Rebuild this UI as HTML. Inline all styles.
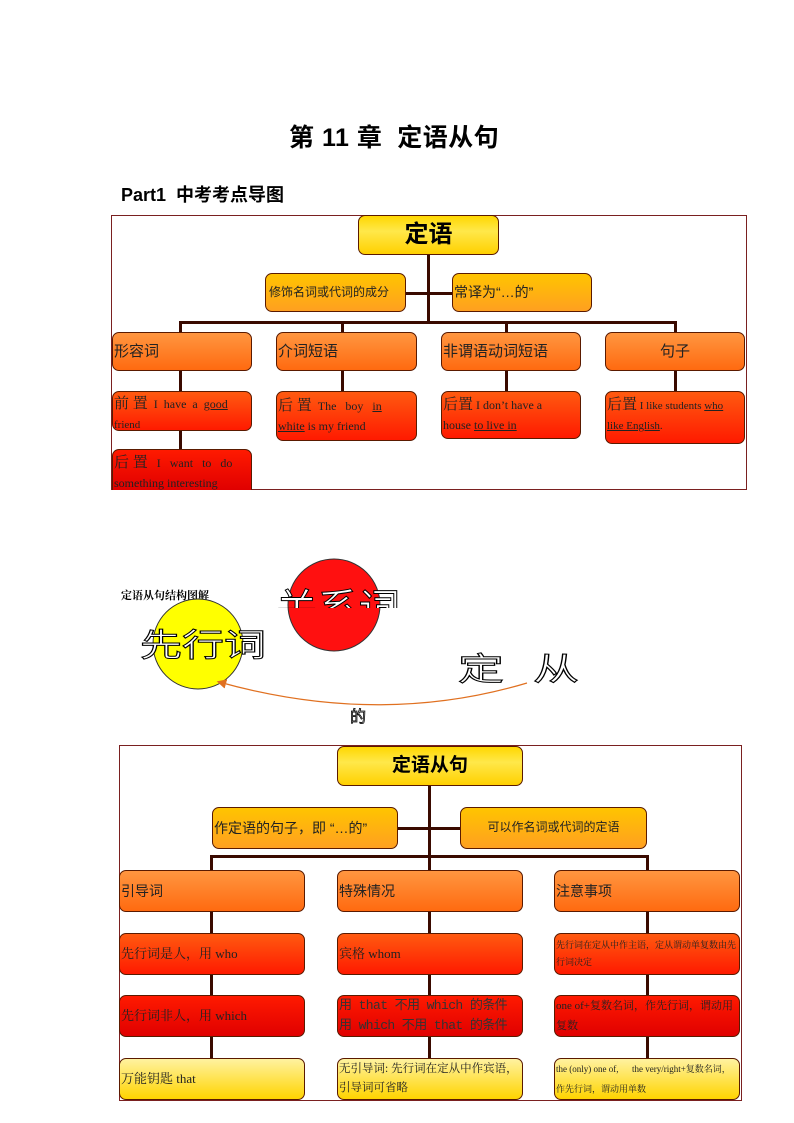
<!DOCTYPE html>
<html><head><meta charset="utf-8">
<style>
body{margin:0;background:#fff;}
#p{position:relative;width:794px;height:1123px;overflow:hidden;font-family:"Liberation Serif","Noto Serif CJK SC",serif;}
.a{position:absolute;box-sizing:border-box;}
.b{position:absolute;box-sizing:border-box;border:1px solid #5a1a00;border-radius:7px;display:flex;align-items:center;padding:0 1px;color:#222;overflow:hidden;line-height:1.3;}
.y{background:linear-gradient(#ffd700,#ffe84a 40%,#ffd000);}
.y2{background:linear-gradient(#ffc400,#ffa020);}
.o{background:linear-gradient(#ff9640,#ff6a10);}
.r{background:linear-gradient(#ff5a10,#ff1a00);}
.rr{background:linear-gradient(#ff1a00,#e00000);}
.yy{background:linear-gradient(#fff2a0,#ffd400);}
.l{position:absolute;background:#3a0a00;}
.s{font-family:"Liberation Sans","Noto Sans CJK SC",sans-serif;}
u{text-decoration:underline;}
</style></head><body><div id="p">
<div class="a s" style="left:289px;top:118px;font-size:25px;font-weight:bold;letter-spacing:0.5px;">第 11 章&nbsp; 定语从句</div>
<div class="a s" style="left:121px;top:181px;font-size:18px;font-weight:bold;">Part1&nbsp; 中考考点导图</div>

<!-- diagram 1 -->
<div class="a" style="left:111px;top:215px;width:636px;height:275px;border:1px solid #7a2020;"></div>
<div class="l" style="left:427px;top:254px;width:3px;height:69px;"></div>
<div class="l" style="left:406px;top:292px;width:46px;height:3px;"></div>
<div class="l" style="left:179px;top:321px;width:498px;height:3px;"></div>
<div class="l" style="left:179px;top:321px;width:3px;height:12px;"></div>
<div class="l" style="left:341px;top:321px;width:3px;height:12px;"></div>
<div class="l" style="left:505px;top:321px;width:3px;height:12px;"></div>
<div class="l" style="left:674px;top:321px;width:3px;height:12px;"></div>
<div class="l" style="left:179px;top:371px;width:3px;height:80px;"></div>
<div class="l" style="left:341px;top:371px;width:3px;height:22px;"></div>
<div class="l" style="left:505px;top:371px;width:3px;height:22px;"></div>
<div class="l" style="left:674px;top:371px;width:3px;height:22px;"></div>
<div class="b y s" style="left:358px;top:215px;width:141px;height:40px;justify-content:center;font-size:24px;font-weight:bold;color:#000;">定语</div>
<div class="b y2 s" style="left:265px;top:273px;width:141px;height:39px;font-size:12px;padding-left:3px;">修饰名词或代词的成分</div>
<div class="b y2 s" style="left:452px;top:273px;width:140px;height:39px;font-size:14px;">常译为“…的”</div>
<div class="b o s" style="left:112px;top:332px;width:140px;height:39px;font-size:15px;">形容词</div>
<div class="b o s" style="left:276px;top:332px;width:141px;height:39px;font-size:15px;">介词短语</div>
<div class="b o s" style="left:441px;top:332px;width:140px;height:39px;font-size:15px;">非谓语动词短语</div>
<div class="b o s" style="left:605px;top:332px;width:140px;height:39px;font-size:15px;justify-content:center;">句子</div>
<div class="b r" style="left:112px;top:391px;width:140px;height:40px;font-size:12px;display:block;padding-top:2px;line-height:20px;"><span style="font-size:15px">前 置</span>&nbsp; I&nbsp; have&nbsp; a&nbsp; <u>good</u><br><span style="font-size:11px">friend</span></div>
<div class="b r" style="left:276px;top:391px;width:141px;height:50px;font-size:12px;display:block;padding-top:4px;line-height:20px;"><span style="font-size:15px">后 置</span>&nbsp; The&nbsp;&nbsp; boy&nbsp;&nbsp; <u>in</u><br><u>white</u> is my friend</div>
<div class="b r" style="left:441px;top:391px;width:140px;height:48px;font-size:12px;display:block;padding-top:3px;line-height:20px;"><span style="font-size:15px">后置</span> I don’t have a<br>house <u>to live in</u></div>
<div class="b r" style="left:605px;top:391px;width:140px;height:53px;font-size:11px;display:block;padding-top:3px;line-height:20px;"><span style="font-size:15px">后置</span> I like students <u>who</u><br><u>like English</u>.</div>
<div class="b rr" style="left:112px;top:449px;width:140px;height:41px;font-size:12px;display:block;padding-top:3px;line-height:20px;border-bottom:none;border-radius:7px 7px 0 0;"><span style="font-size:15px">后 置</span>&nbsp;&nbsp; I&nbsp;&nbsp; want&nbsp;&nbsp; to&nbsp;&nbsp; do<br>something interesting</div>

<!-- diagram 2 -->
<div class="a" style="left:121px;top:587px;font-size:11px;font-weight:bold;font-family:'Noto Serif CJK SC',serif;">定语从句结构图解</div>
<svg class="a" style="left:0;top:540px" width="794" height="200">
<defs><clipPath id="c"><rect x="270" y="40" width="150" height="28"/></clipPath>
<marker id="m" markerWidth="8" markerHeight="8" refX="6" refY="4" orient="auto"><path d="M0,0L8,4L0,8z" fill="#e07020"/></marker></defs>
<circle cx="198" cy="104" r="45" fill="#ffff00" stroke="#333"/>
<circle cx="334" cy="65" r="46" fill="#ff1010" stroke="#333"/>
<g clip-path="url(#c)"><text x="276" y="84" font-size="42" font-family="Noto Sans CJK SC" fill="#fff" stroke="#000" stroke-width="1" textLength="124" lengthAdjust="spacingAndGlyphs">关系词</text></g>
<text x="140" y="116" font-size="32" font-family="Noto Sans CJK SC" fill="#fff" stroke="#000" stroke-width="1" textLength="126" lengthAdjust="spacingAndGlyphs">先行词</text>
<text x="458" y="140" font-size="32" font-family="Noto Sans CJK SC" fill="#fff" stroke="#000" stroke-width="1" textLength="46" lengthAdjust="spacingAndGlyphs">定</text>
<text x="533" y="140" font-size="32" font-family="Noto Sans CJK SC" fill="#fff" stroke="#000" stroke-width="1" textLength="46" lengthAdjust="spacingAndGlyphs">从</text>
<path d="M527,143 Q380,187 219,142" fill="none" stroke="#e07020" stroke-width="1.2" marker-end="url(#m)"/>
<text x="350" y="182" font-size="16" font-family="Noto Sans CJK SC" fill="#fff" stroke="#000" stroke-width="0.8">的</text>
</svg>

<!-- diagram 3 -->
<div class="a" style="left:119px;top:745px;width:623px;height:356px;border:1px solid #7a2020;"></div>
<div class="l" style="left:428px;top:786px;width:3px;height:72px;"></div>
<div class="l" style="left:398px;top:827px;width:62px;height:3px;"></div>
<div class="l" style="left:210px;top:855px;width:439px;height:3px;"></div>
<div class="l" style="left:210px;top:855px;width:3px;height:16px;"></div>
<div class="l" style="left:428px;top:855px;width:3px;height:16px;"></div>
<div class="l" style="left:646px;top:855px;width:3px;height:16px;"></div>
<div class="l" style="left:210px;top:911px;width:3px;height:150px;"></div>
<div class="l" style="left:428px;top:911px;width:3px;height:150px;"></div>
<div class="l" style="left:646px;top:911px;width:3px;height:150px;"></div>
<div class="b y s" style="left:337px;top:746px;width:186px;height:40px;justify-content:center;font-size:19px;font-weight:bold;color:#000;">定语从句</div>
<div class="b y2 s" style="left:212px;top:807px;width:186px;height:42px;font-size:14px;">作定语的句子，即 “…的”</div>
<div class="b y2 s" style="left:460px;top:807px;width:187px;height:42px;font-size:12px;justify-content:center;">可以作名词或代词的定语</div>
<div class="b o s" style="left:119px;top:870px;width:186px;height:42px;font-size:14px;">引导词</div>
<div class="b o s" style="left:337px;top:870px;width:186px;height:42px;font-size:14px;">特殊情况</div>
<div class="b o s" style="left:554px;top:870px;width:186px;height:42px;font-size:14px;">注意事项</div>
<div class="b r" style="left:119px;top:933px;width:186px;height:42px;font-size:13px;">先行词是人，用 who</div>
<div class="b r" style="left:337px;top:933px;width:186px;height:42px;font-size:13px;">宾格 whom</div>
<div class="b r" style="left:554px;top:933px;width:186px;height:42px;font-size:9px;line-height:17px;">先行词在定从中作主语，定从谓动单复数由先行词决定</div>
<div class="b rr" style="left:119px;top:995px;width:186px;height:42px;font-size:13px;">先行词非人，用 which</div>
<div class="b rr" style="left:337px;top:995px;width:186px;height:42px;font-size:13px;line-height:20px;white-space:nowrap;font-family:'Liberation Mono','Noto Sans CJK SC',monospace;color:#333;letter-spacing:-0.6px;">用 that 不用 which 的条件<br>用 which 不用 that 的条件</div>
<div class="b rr" style="left:554px;top:995px;width:186px;height:42px;font-size:11px;line-height:20px;">one of+复数名词，作先行词，谓动用复数</div>
<div class="b yy" style="left:119px;top:1058px;width:186px;height:42px;font-size:13px;">万能钥匙 that</div>
<div class="b yy" style="left:337px;top:1058px;width:186px;height:42px;font-size:11.5px;line-height:19px;">无引导词: 先行词在定从中作宾语，引导词可省略</div>
<div class="b yy" style="left:554px;top:1058px;width:186px;height:42px;font-size:9px;line-height:20px;">the (only) one of,&nbsp;&nbsp;&nbsp;&nbsp;&nbsp; the very/right+复数名词，作先行词，谓动用单数</div>
</div></body></html>
